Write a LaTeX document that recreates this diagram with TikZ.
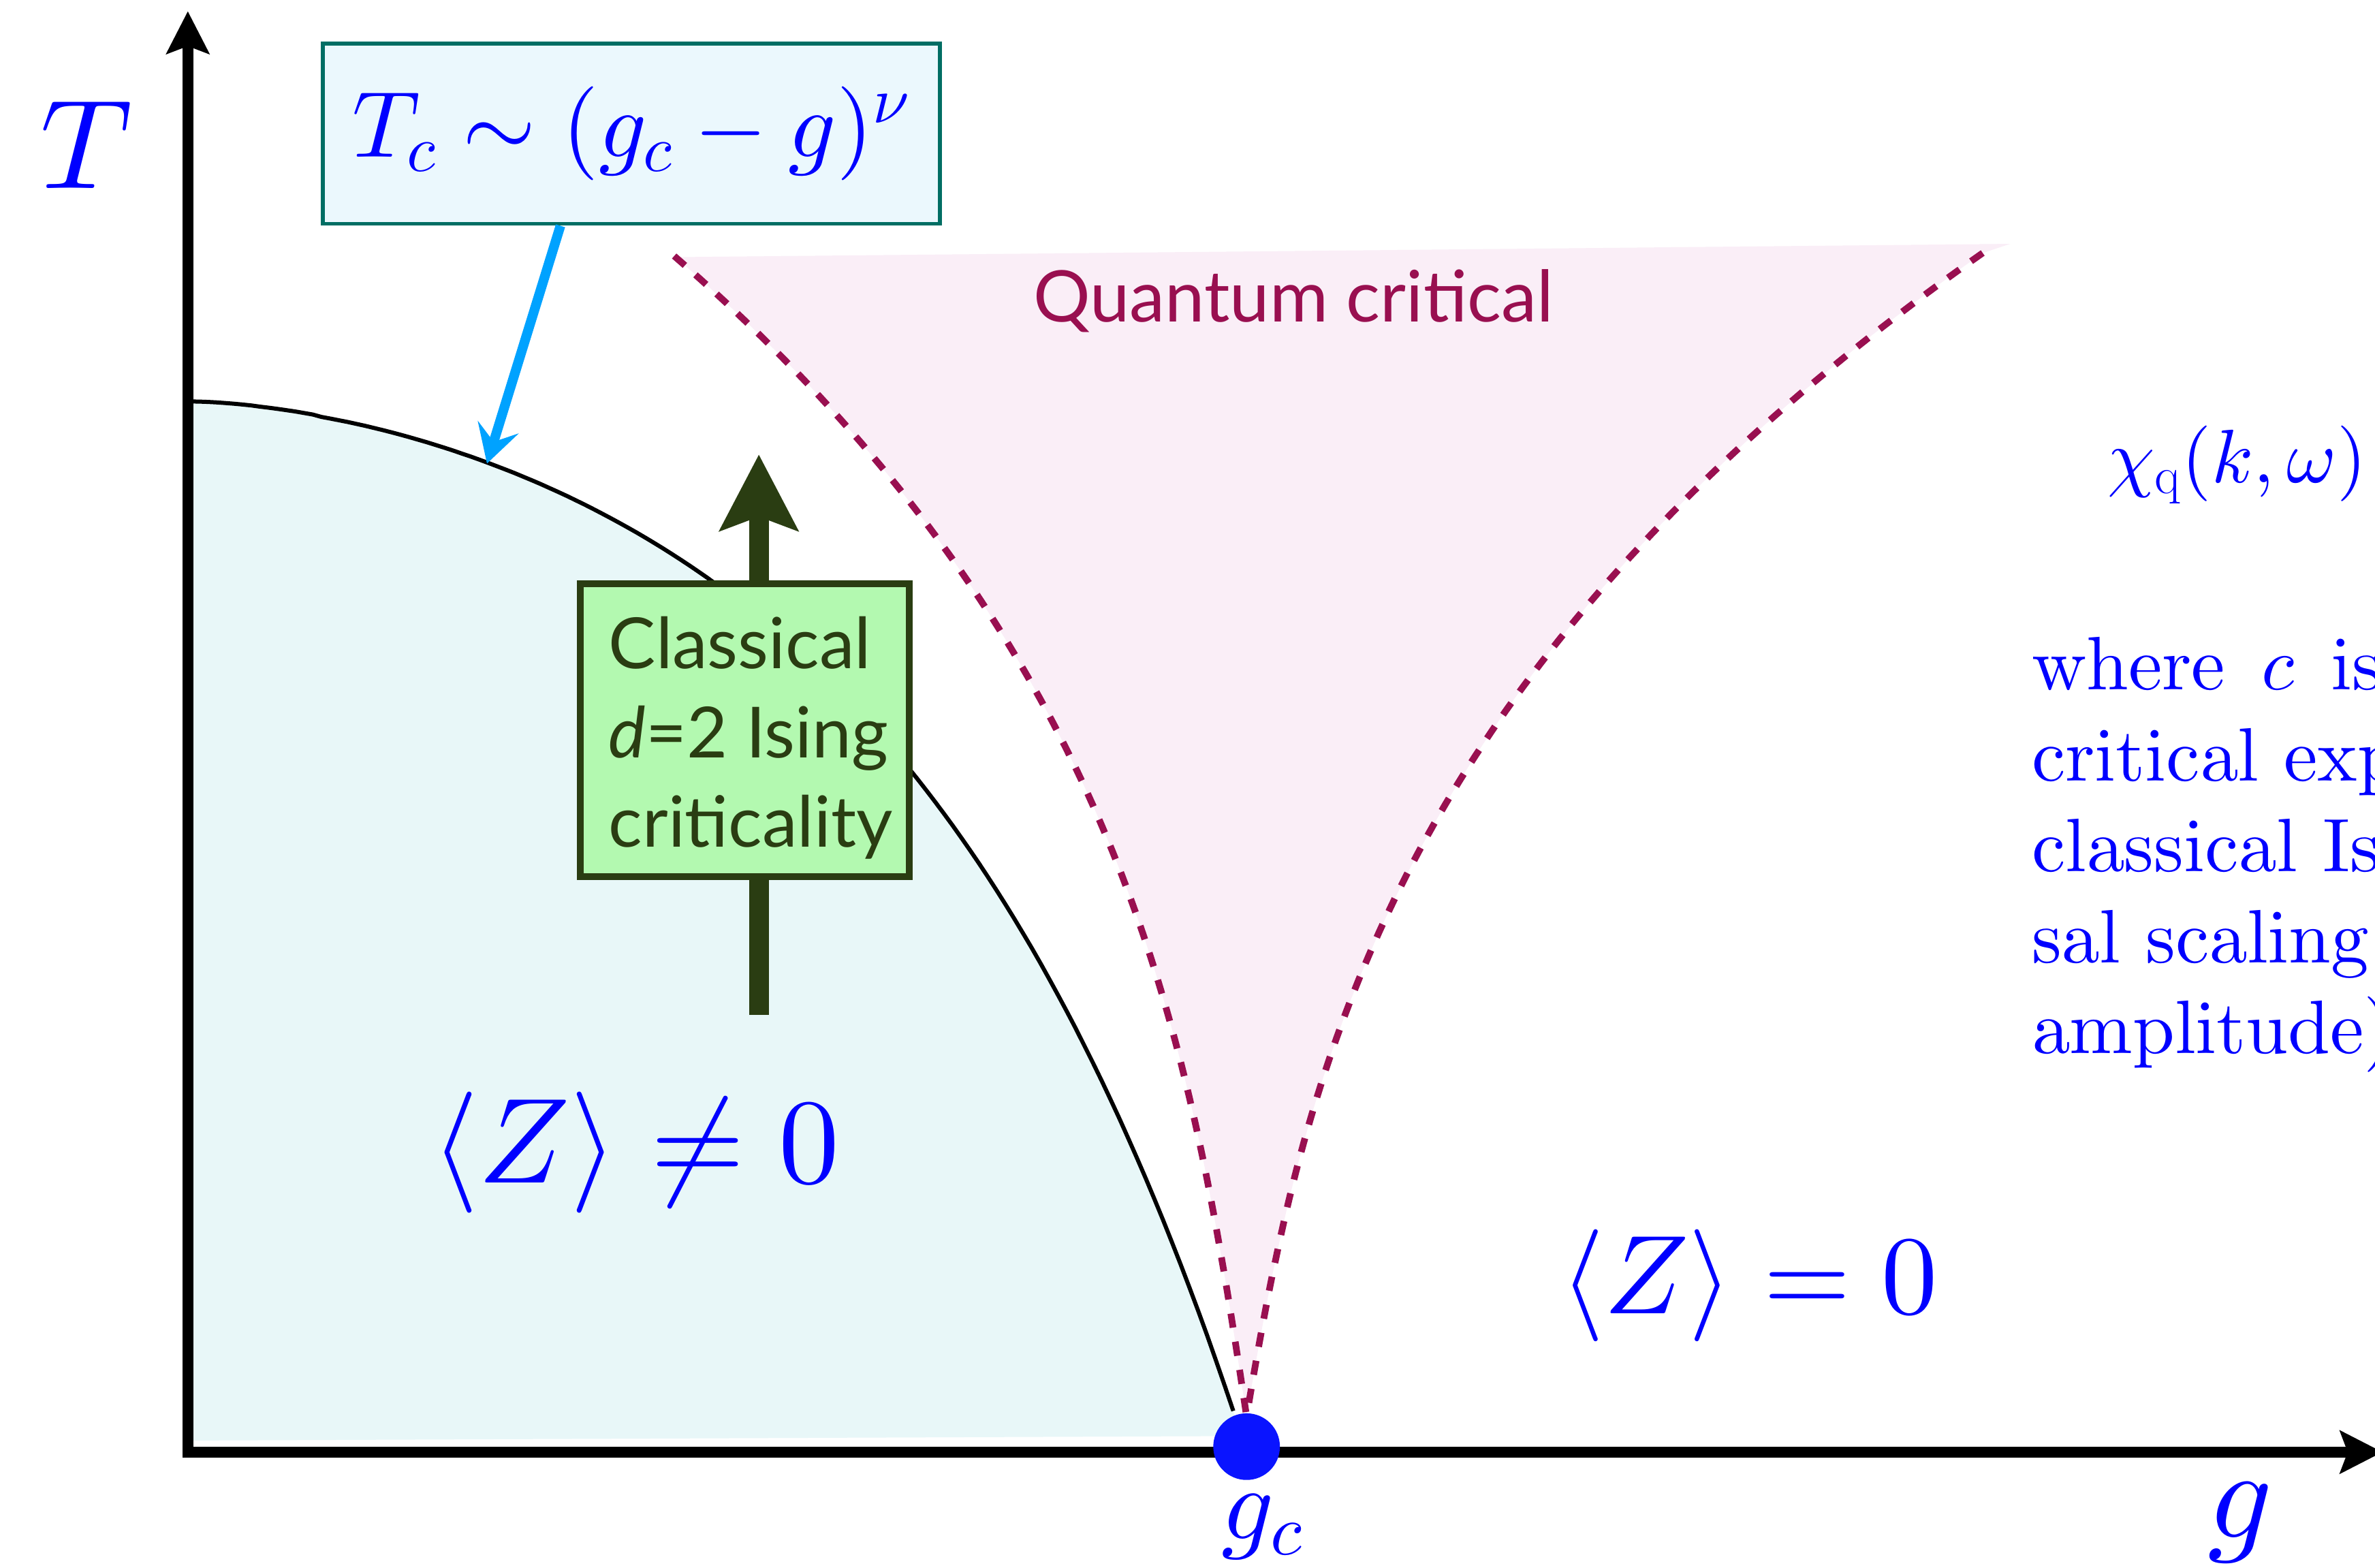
\documentclass[tikz,border=0pt]{standalone}
\usepackage{fontspec}
\DeclareFontFamily{OT1}{cmr}{\hyphenchar\font45 }
\DeclareFontShape{OT1}{cmr}{m}{n}{<->cmr10}{}
\DeclareFontShape{OML}{cmm}{m}{it}{<->cmmi10}{\skewchar\font'177}
\DeclareFontShape{OMS}{cmsy}{m}{n}{<->cmsy10}{\skewchar\font'60}
\DeclareFontShape{OMX}{cmex}{m}{n}{<->cmex10}{}
\newfontfamily\gillfont{Lato}
\usetikzlibrary{arrows.meta,calc}
\definecolor{txtblue}{RGB}{0,0,255}
\definecolor{tcfill}{RGB}{235,248,253}
\definecolor{tcborder}{RGB}{0,110,100}
\definecolor{arrowcyan}{RGB}{0,162,255}
\definecolor{phasefill}{RGB}{232,247,248}
\definecolor{qcfill}{RGB}{250,238,247}
\definecolor{qcline}{RGB}{153,15,80}
\definecolor{darkgreen}{RGB}{42,61,18}
\definecolor{greenfill}{RGB}{179,249,176}
\definecolor{dotblue}{RGB}{10,20,255}
\tikzset{
  axisline/.style={line width=3.5pt, line join=miter, {Stealth[length=14pt,width=14pt,inset=2.5pt]}-{Stealth[length=14pt,width=14pt,inset=2.5pt]}},
  boundary/.style={line width=1.35pt, black},
  qcdash/.style={line width=2.2pt, qcline, dash pattern=on 4.7pt off 4.7pt},
  tcbox/.style={draw=tcborder, fill=tcfill, line width=1.3pt, minimum width=203.7pt, minimum height=59.5pt, inner sep=0pt, text=txtblue, font=\fontsize{31}{36}\selectfont},
  cyanarrow/.style={arrowcyan, line width=3.2pt, -{Stealth[length=12.5pt,width=14pt,inset=5pt]}},
  greenarrow/.style={darkgreen, line width=6.5pt, -{Stealth[length=25pt,width=25.5pt,inset=4.5pt]}},
  greenbox/.style={draw=darkgreen, fill=greenfill, line width=2.25pt, minimum width=108.5pt, minimum height=96.75pt, inner sep=0pt},
  greentext/.style={text=darkgreen, inner sep=0pt, align=left, font=\gillfont\fontsize{23.3}{29.5}\selectfont},
  qctext/.style={text=qcline, inner sep=0pt, font=\gillfont\fontsize{23.5}{28}\selectfont},
  mathlabel/.style={text=txtblue, inner sep=0pt},
  bodytext/.style={text=txtblue, inner sep=0pt, align=left, text width=300pt, font=\fontencoding{OT1}\fontfamily{cmr}\fontsize{25}{30}\selectfont},
  gcdotstyle/.style={circle, fill=dotblue, minimum size=22pt, inner sep=0pt}
}
\begin{document}
\begin{tikzpicture}[x=0.5pt,y=-0.5pt]
\useasboundingbox (0,0) rectangle (1568,1035);
\clip (0,0) rectangle (1568,1035);
\fill[white] (0,0) rectangle (1568,1035);

% ordered phase region
\fill[phasefill] (126,951) -- (126,265) -- plot[domain=0.002:1, samples=120, variable=\t] ({124+691*\t},{265+669*\t^(1.9+1.2*\t)}) -- (818,948) -- cycle;

% quantum critical region
\fill[qcfill] plot[domain=0.002:1, samples=100, variable=\w] ({823-114.9*\w-263*\w^2.9},{935-766*\w})
  -- (1327,161)
  -- plot[domain=1:0.002, samples=100, variable=\w] ({823+130*\w+356*\w^2.7},{935-768*\w}) -- cycle;

% phase boundary
\draw[boundary] (124,265) -- plot[domain=0.002:1, samples=120, variable=\t] ({124+691*\t},{265+669*\t^(1.9+1.2*\t)});

% crossover lines
\draw[qcdash] plot[domain=1:0.002, samples=100, variable=\w] ({823-114.9*\w-263*\w^2.9},{935-766*\w});
\draw[qcdash] plot[domain=1:0.002, samples=100, variable=\w] ({823+130*\w+356*\w^2.7},{935-768*\w});

\node[qctext, anchor=base west] (qclabel) at (682,212.6) {Quantum critical};

% classical criticality arrow and box
\coordinate (gbot) at (501,670);
\coordinate (gtop) at (501,300);
\draw[greenarrow] (gbot) -- (gtop);
\node[greenbox] (gbox) at (491.75,482) {};
\node[greentext, anchor=west] (gtext) at (401.5,487) {Classical\\\textit{d}=2 Ising\\criticality};

% Tc box and arrow
\node[tcbox] (tcb) at (417,88.25) {$T_c \sim (g_c - g)^\nu$};
\coordinate (tcpoint) at (321.5,306);
\draw[cyanarrow] ([xshift=-23.5pt]tcb.south) -- (tcpoint);

% axes
\coordinate (ytip) at (124,7.4);
\coordinate (origin) at (124,958.6);
\coordinate (xtip) at (1573,958.6);
\draw[axisline] (ytip) -- (origin) -- (xtip);

% critical point
\node[gcdotstyle] (gcdot) at (823,955) {};

% labels
\node[mathlabel, anchor=base, font=\fontsize{42}{50}\selectfont] (Tlab) at (57,124.5) {$T$};
\node[mathlabel, anchor=base west, font=\fontsize{42}{50}\selectfont] (glab) at (1457,1015) {$g$};
\node[mathlabel, anchor=base west, font=\fontsize{34}{40}\selectfont] (gclab) at (806,1016) {$g_c$};
\node[mathlabel, anchor=base west, font=\fontsize{40}{48}\selectfont] (ordered) at (284.6,781) {$\langle Z\rangle \neq 0$};
\node[mathlabel, anchor=base west, font=\fontsize{37}{45}\selectfont] (disordered) at (1030,867) {$\langle Z\rangle = 0$};
\node[mathlabel, anchor=base west, font=\fontsize{25}{30}\selectfont] (chi) at (1391,318.5) {$\chi_{\mathrm{q}}(k,\omega)$};
\node[bodytext, anchor=base west] (body) at (1341,455.5) {where\hspace{12pt}$c$\hspace{12pt}is\\critical exponent\\classical Ising\\sal scaling\\amplitude)};
\end{tikzpicture}
\end{document}
